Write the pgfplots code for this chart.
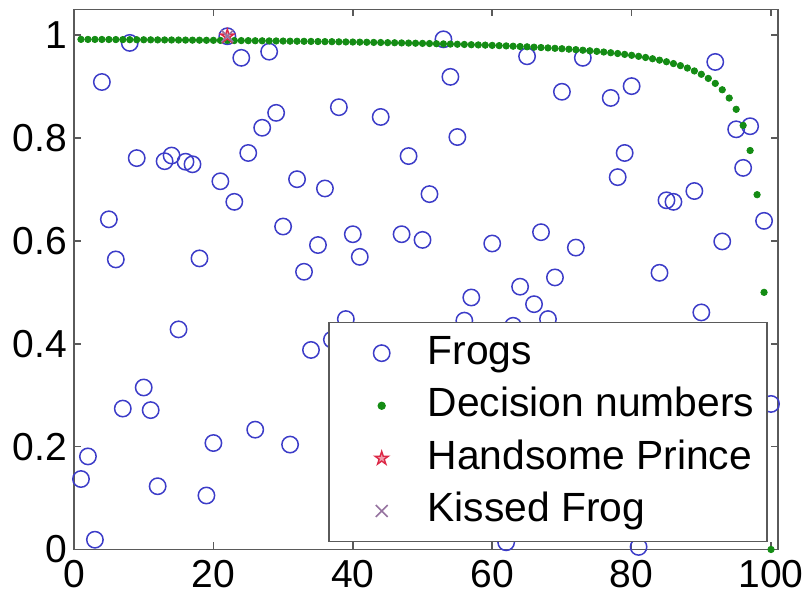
\documentclass[border=0pt]{standalone}
\usepackage{fontspec}
\setmainfont{Liberation Sans}
\usepackage{pgfplots}
\pgfplotsset{compat=1.18}
\definecolor{frogblue}{RGB}{60,60,200}
\definecolor{decgreen}{RGB}{20,140,20}
\definecolor{princered}{RGB}{220,40,70}
\definecolor{kisspurple}{RGB}{150,115,160}
\definecolor{axgray}{RGB}{90,90,90}
\pgfdeclareplotmark{pentagram}{%
  \pgfpathmoveto{\pgfpointpolar{90}{\pgfplotmarksize}}%
  \pgfpathlineto{\pgfpointpolar{126}{0.382\pgfplotmarksize}}%
  \pgfpathlineto{\pgfpointpolar{162}{\pgfplotmarksize}}%
  \pgfpathlineto{\pgfpointpolar{198}{0.382\pgfplotmarksize}}%
  \pgfpathlineto{\pgfpointpolar{234}{\pgfplotmarksize}}%
  \pgfpathlineto{\pgfpointpolar{270}{0.382\pgfplotmarksize}}%
  \pgfpathlineto{\pgfpointpolar{306}{\pgfplotmarksize}}%
  \pgfpathlineto{\pgfpointpolar{342}{0.382\pgfplotmarksize}}%
  \pgfpathlineto{\pgfpointpolar{18}{\pgfplotmarksize}}%
  \pgfpathlineto{\pgfpointpolar{54}{0.382\pgfplotmarksize}}%
  \pgfpathclose
  \pgfusepathqfillstroke
}
\pgfplotsset{
  myleg/.style={legend image code/.code={%
    \path[draw=none, fill=none] (0pt,-1pt) (40pt,1pt);
    \draw[##1] plot coordinates {(20pt,0pt)};}},
}
\begin{document}
\begin{tikzpicture}
\begin{axis}[
  scale only axis, width=352pt, height=270pt,
  xmin=0, xmax=101, ymin=0, ymax=1.05,
  xtick={0,20,40,60,80,100},
  ytick={0,0.2,0.4,0.6,0.8,1},
  tick align=inside,
  major tick length=3.5pt,
  every tick/.style={axgray, line width=0.8pt},
  axis line style={axgray, line width=0.9pt},
  tick label style={font=\fontsize{19.5}{22}\selectfont, /pgf/number format/assume math mode=true},
  xticklabel style={yshift=-2pt},
  clip=false,
  legend cell align=left,
  legend style={at={(0.986,0.013)}, anchor=south east, draw=axgray, line width=0.9pt, fill=white,
    inner xsep=6.5pt, inner ysep=6.8pt, row sep=9.3pt, column sep=3pt,
    nodes={inner sep=0pt, text height=14pt, text depth=3pt, font=\fontsize{20.4}{23}\selectfont}},
]
\addplot[only marks, mark=o, mark size=4.1pt, frogblue, line width=0.75pt, myleg] coordinates {
(1,0.137)(2,0.181)(3,0.019)(4,0.909)(5,0.642)(6,0.564)(7,0.274)(8,0.985)(9,0.761)(10,0.315)
(11,0.271)(12,0.123)(13,0.755)(14,0.766)(15,0.428)(16,0.754)(17,0.749)(18,0.566)(19,0.105)(20,0.207)
(21,0.716)(22,0.998)(23,0.676)(24,0.956)(25,0.771)(26,0.233)(27,0.820)(28,0.968)(29,0.849)(30,0.628)
(31,0.204)(32,0.720)(33,0.540)(34,0.388)(35,0.592)(36,0.702)(37,0.408)(38,0.860)(39,0.448)(40,0.613)
(41,0.569)(44,0.841)(47,0.613)(48,0.765)(50,0.602)(51,0.691)(53,0.992)(54,0.919)(55,0.802)(56,0.445)
(57,0.490)(60,0.595)(62,0.014)(63,0.435)(64,0.511)(65,0.959)(66,0.477)(67,0.617)(68,0.448)(69,0.529)
(70,0.890)(72,0.587)(73,0.956)(77,0.878)(78,0.724)(79,0.771)(80,0.901)(81,0.005)(84,0.538)(85,0.679)
(86,0.676)(89,0.697)(90,0.461)(92,0.948)(93,0.599)(95,0.817)(96,0.742)(97,0.823)(99,0.639)(100,0.283)
};
\addlegendentry{Frogs}
\addplot[only marks, mark=*, mark size=1.6pt, decgreen, myleg] coordinates {
(1,0.9919)(2,0.9918)(3,0.9918)(4,0.9917)(5,0.9916)(6,0.9915)(7,0.9914)(8,0.9913)(9,0.9912)(10,0.9911)
(11,0.9910)(12,0.9909)(13,0.9908)(14,0.9907)(15,0.9906)(16,0.9905)(17,0.9904)(18,0.9903)(19,0.9901)(20,0.9900)
(21,0.9899)(22,0.9898)(23,0.9896)(24,0.9895)(25,0.9894)(26,0.9892)(27,0.9891)(28,0.9889)(29,0.9888)(30,0.9886)
(31,0.9884)(32,0.9883)(33,0.9881)(34,0.9879)(35,0.9877)(36,0.9875)(37,0.9874)(38,0.9871)(39,0.9869)(40,0.9867)
(41,0.9865)(42,0.9863)(43,0.9860)(44,0.9858)(45,0.9855)(46,0.9853)(47,0.9850)(48,0.9847)(49,0.9844)(50,0.9841)
(51,0.9838)(52,0.9834)(53,0.9831)(54,0.9827)(55,0.9824)(56,0.9820)(57,0.9815)(58,0.9811)(59,0.9807)(60,0.9802)
(61,0.9797)(62,0.9792)(63,0.9786)(64,0.9780)(65,0.9774)(66,0.9767)(67,0.9760)(68,0.9753)(69,0.9745)(70,0.9737)
(71,0.9728)(72,0.9719)(73,0.9708)(74,0.9697)(75,0.9686)(76,0.9673)(77,0.9659)(78,0.9644)(79,0.9627)(80,0.9609)
(81,0.9589)(82,0.9567)(83,0.9542)(84,0.9515)(85,0.9484)(86,0.9448)(87,0.9408)(88,0.9361)(89,0.9305)(90,0.9240)
(91,0.9160)(92,0.9063)(93,0.8939)(94,0.8778)(95,0.8559)(96,0.8246)(97,0.7758)(98,0.6899)(99,0.5000)(100,0)
};
\addlegendentry{Decision numbers}
\addplot[only marks, mark=pentagram, mark size=3.5pt, draw=princered, fill=princered!45, line width=0.7pt, myleg] coordinates {(22,0.998)};
\addlegendentry{Handsome Prince}
\addplot[only marks, mark=x, mark size=4.2pt, kisspurple, line width=0.8pt, myleg] coordinates {(22,0.998)};
\addlegendentry{Kissed Frog}
\end{axis}
\pgfresetboundingbox
\path[use as bounding box] ([shift={(-37pt,-29pt)}]current axis.south west) rectangle ([shift={(15pt,4.75pt)}]current axis.north east);
\end{tikzpicture}
\end{document}
